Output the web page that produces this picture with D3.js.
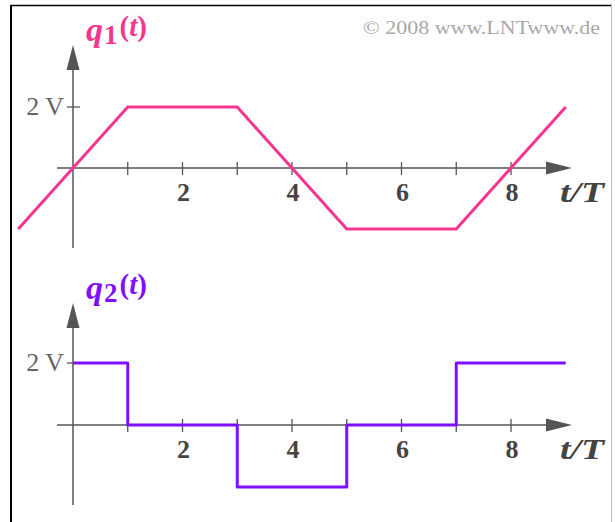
<!DOCTYPE html>
<html>
<head>
<meta charset="utf-8">
<script src="https://cdn.jsdelivr.net/npm/d3@7"></script>
<style>
  html, body { margin: 0; padding: 0; background: #fff; }
  svg { display: block; }
</style>
</head>
<body>
<svg id="chart" width="615" height="522"></svg>
<script>
// Time axis (in units of T) and the two signal waveforms
const tTicks = [1, 2, 3, 4, 5, 6, 7, 8];
const tLabels = [2, 4, 6, 8];
// q1(t): trapezoid corner points [t/T, volts]
const q1T = [-1, 1, 3, 5, 7, 9];
const q1V = [-2, 2, 2, -2, -2, 2];
// q2(t): piecewise-constant steps [t/T, volts]
const q2T = [0, 1, 1, 3, 3, 5, 5, 7, 7, 9];
const q2V = [2, 2, 0, 0, -2, -2, 0, 0, 2, 2];
const yTickValue = 2;
const yTickLabel = "2 V";

const svg = d3.select("#chart");
const axisColor = "#555";
const serif = "'Liberation Serif', 'Times New Roman', serif";

// Frame
svg.append("line").attr("x1", 11).attr("y1", 5).attr("x2", 11).attr("y2", 522)
  .attr("stroke", "#000").attr("stroke-width", 2);
svg.append("line").attr("x1", 10).attr("y1", 5.5).attr("x2", 612).attr("y2", 5.5)
  .attr("stroke", "#000").attr("stroke-width", 1.5);
svg.append("line").attr("x1", 611.5).attr("y1", 5).attr("x2", 611.5).attr("y2", 522)
  .attr("stroke", "#bbb").attr("stroke-width", 1);

// Copyright note
svg.append("text").attr("x", 363).attr("y", 34)
  .attr("font-family", serif).attr("font-size", 19).attr("fill", "#a8a8a8")
  .attr("textLength", 237).attr("lengthAdjust", "spacingAndGlyphs")
  .text("© 2008 www.LNTwww.de");

const x = d3.scaleLinear().domain([0, 8]).range([73, 511]);

function panel(cfg) {
  const y = d3.scaleLinear().domain([0, 2]).range([cfg.y0, cfg.y2]);
  const g = svg.append("g");

  // x axis with arrow
  g.append("line").attr("x1", 57).attr("x2", 548)
    .attr("y1", y(0)).attr("y2", y(0))
    .attr("stroke", axisColor).attr("stroke-width", 1.5);
  g.append("path")
    .attr("d", `M${546},${y(0) - 6.5} L${572},${y(0)} L${546},${y(0) + 6.5} Z`)
    .attr("fill", axisColor);

  // y axis with arrow
  g.append("line").attr("x1", x(0)).attr("x2", x(0))
    .attr("y1", cfg.yTop + 22).attr("y2", cfg.yBottom)
    .attr("stroke", axisColor).attr("stroke-width", 1.5);
  g.append("path")
    .attr("d", `M${x(0) - 6.5},${cfg.yTop + 25} L${x(0)},${cfg.yTop} L${x(0) + 6.5},${cfg.yTop + 25} Z`)
    .attr("fill", axisColor);

  // tick marks on the time axis
  g.selectAll(".xt").data(tTicks).join("line")
    .attr("x1", d => x(d)).attr("x2", d => x(d))
    .attr("y1", y(0) - 6).attr("y2", y(0) + 7)
    .attr("stroke", axisColor).attr("stroke-width", 1.3);
  g.selectAll(".xl").data(tLabels).join("text")
    .attr("x", d => x(d) + 1).attr("y", y(0) + 33)
    .attr("text-anchor", "middle")
    .attr("font-family", serif).attr("font-weight", "bold")
    .attr("font-size", 26).attr("fill", "#444")
    .text(d => d);
  g.append("text").attr("x", 560).attr("y", y(0) + 34)
    .attr("font-family", serif).attr("font-weight", "bold").attr("font-style", "italic")
    .attr("font-size", 30).attr("fill", "#444")
    .attr("textLength", 44).attr("lengthAdjust", "spacingAndGlyphs")
    .text("t/T");

  // tick at 2 V
  g.append("line").attr("x1", x(0) - 6).attr("x2", x(0) + 7)
    .attr("y1", y(yTickValue)).attr("y2", y(yTickValue))
    .attr("stroke", axisColor).attr("stroke-width", 1.3);
  g.append("text").attr("x", x(0) - 9).attr("y", y(yTickValue) + 8)
    .attr("text-anchor", "end")
    .attr("font-family", serif).attr("font-size", 26).attr("fill", "#666")
    .text(yTickLabel);

  // signal
  const pts = cfg.t.map((t, i) => [t, cfg.v[i]]);
  g.append("path").datum(pts)
    .attr("d", d3.line().x(d => x(d[0])).y(d => y(d[1])))
    .attr("fill", "none").attr("stroke", cfg.color).attr("stroke-width", 3)
    .attr("stroke-linejoin", "round");

  // signal name
  const lab = g.append("text").attr("x", 86).attr("y", cfg.yTop - 4)
    .attr("font-family", serif).attr("font-weight", "bold")
    .attr("fill", cfg.color);
  lab.append("tspan").attr("font-style", "italic").attr("font-size", 34).text("q");
  lab.append("tspan").attr("font-size", 27).attr("dy", 3).attr("dx", 1).text(cfg.sub);
  lab.append("tspan").attr("font-size", 29).attr("dy", -8).attr("dx", 2).text("(");
  lab.append("tspan").attr("font-style", "italic").attr("font-size", 29).text("t");
  lab.append("tspan").attr("font-size", 29).text(")");
}

panel({ t: q1T, v: q1V, y0: 168, y2: 107, yTop: 45, yBottom: 248, color: "#f5358f", sub: "1" });
panel({ t: q2T, v: q2V, y0: 425, y2: 363, yTop: 303, yBottom: 505, color: "#7f10ff", sub: "2" });
</script>
</body>
</html>
